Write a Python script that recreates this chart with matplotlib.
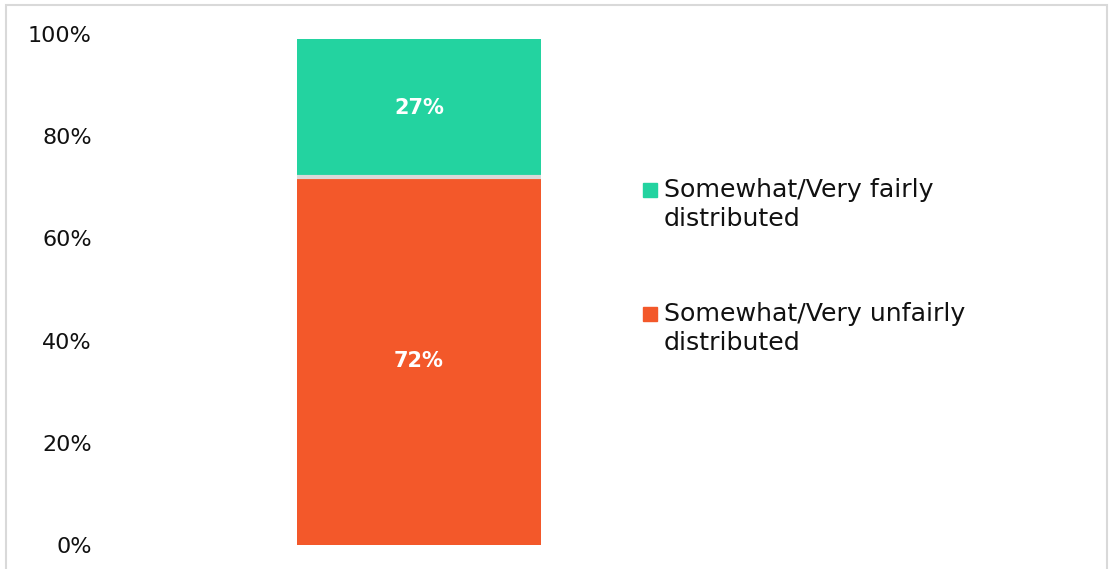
import matplotlib
matplotlib.use("Agg")
import matplotlib.pyplot as plt
from matplotlib.patches import Rectangle

# Share of responses, stacked bottom to top
series = ["Somewhat/Very unfairly\ndistributed", "Somewhat/Very fairly\ndistributed"]
values = [72, 27]
colors = ["#F3582A", "#23D3A0"]
yticks = [0, 20, 40, 60, 80, 100]

plt.rcParams["font.family"] = ["DejaVu Sans"]

W, H = 1109, 569
fig = plt.figure(figsize=(W / 100, H / 100), dpi=100)
ax = fig.add_axes([100 / W, 1 - 545 / H, 638 / W, (545 - 34) / H])

bar_w = 244 / 638
bottom = 0
for i, (val, col) in enumerate(zip(values, colors)):
    ax.bar(0, val, width=bar_w, bottom=bottom, color=col, linewidth=0, zorder=2)
    ax.text(0, bottom + val / 2, f"{val}%", ha="center", va="center",
            color="white", fontsize=15, fontweight="bold", zorder=3)
    if i > 0:
        # thin grey separator between stacked segments
        ax.hlines(bottom, -bar_w / 2, bar_w / 2, color="#D9D9D9",
                  linewidth=3, zorder=3)
    bottom += val

ax.set_xlim(-0.5, 0.5)
ax.set_ylim(0, 100)
ax.set_yticks(yticks)
ax.set_yticklabels([f"{t}%" for t in yticks], fontsize=16, color="#111111")
ax.set_xticks([])
ax.tick_params(axis="y", length=0, pad=6)
for sp in ax.spines.values():
    sp.set_visible(False)

# legend drawn by hand so the marker sits beside the first line
legend_tops = [183, 307]
for (lab, col), top in zip(reversed(list(zip(series, colors))), legend_tops):
    fig.patches.append(Rectangle((643 / W, 1 - (top + 14) / H), 14 / W, 14 / H,
                                 transform=fig.transFigure, color=col))
    fig.text(664 / W, 1 - (top - 5) / H, lab, fontsize=18.2, va="top",
             ha="left", color="#111111", linespacing=1.25)

# light frame round the chart area
fig.patches.append(Rectangle((6 / W, -0.02), 1101 / W, 1.02 - 5 / H,
                             transform=fig.transFigure, fill=False,
                             edgecolor="#D9D9D9", linewidth=1.5))

fig.savefig("out.png", dpi=100)
